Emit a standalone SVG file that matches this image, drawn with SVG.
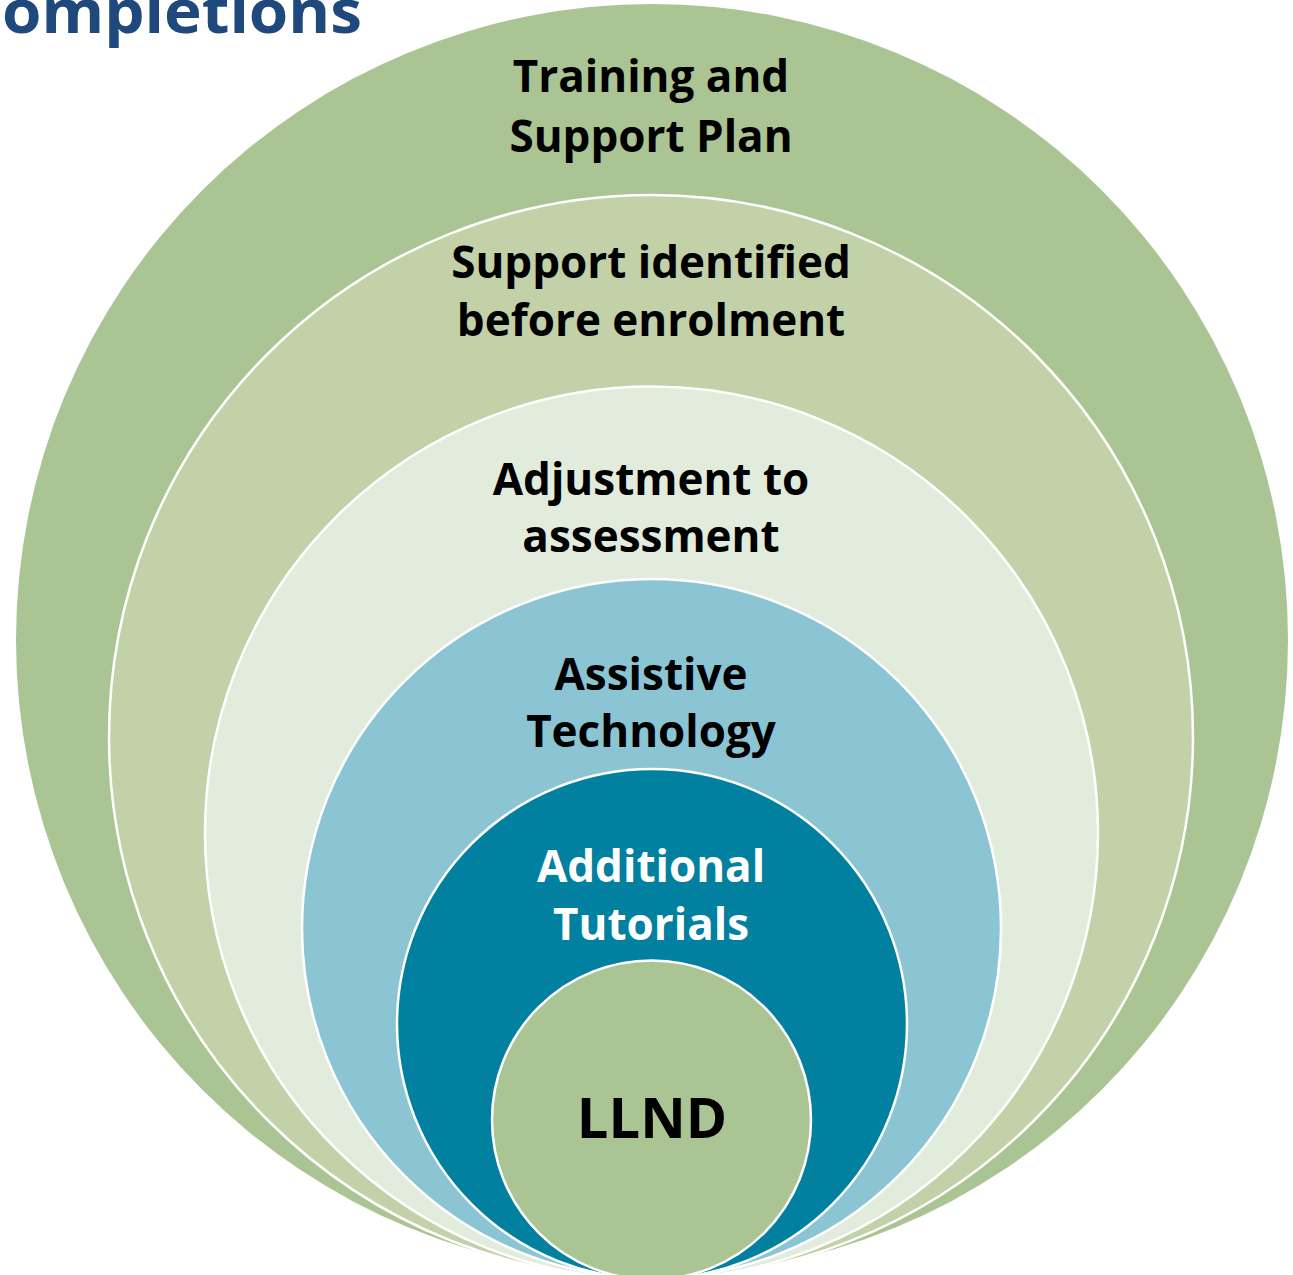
<svg xmlns="http://www.w3.org/2000/svg" width="1293" height="1275" viewBox="0 0 1293 1275">
  <style>
    .ring { stroke: #ffffff; stroke-width: 2.5; }
    .lbl { font-family: "Open Sans", "Liberation Sans", sans-serif; font-weight: 700; font-size: 44px; text-anchor: middle; fill: #000000; }
    .lbl.light { fill: #ffffff; }
    .title { font-family: "Open Sans", "Liberation Sans", sans-serif; font-weight: 700; font-size: 60px; fill: #1F497D; }
  </style>
  <rect width="1293" height="1275" fill="#ffffff"/>

  <text class="title" x="2" y="33" textLength="360" lengthAdjust="spacingAndGlyphs">ompletions</text>

  <!-- nested rings, all touching at the bottom -->
  <g id="training-support-plan">
    <circle cx="652" cy="640" r="636" fill="#AAC494"/>
    <text class="lbl" x="651" y="92">Training and</text>
    <text class="lbl" x="651" y="152">Support Plan</text>
  </g>
  <g id="support-identified">
    <circle class="ring" cx="651" cy="737" r="542" fill="#C3D1A9"/>
    <text class="lbl" x="651" y="278">Support identified</text>
    <text class="lbl" x="651" y="336">before enrolment</text>
  </g>
  <g id="adjustment-assessment">
    <circle class="ring" cx="651.5" cy="833" r="446.5" fill="#E2ECDC"/>
    <text class="lbl" x="651" y="495">Adjustment to</text>
    <text class="lbl" x="651" y="552">assessment</text>
  </g>
  <g id="assistive-technology">
    <circle class="ring" cx="651.5" cy="928.5" r="349.5" fill="#8BC5D4"/>
    <text class="lbl" x="651" y="690">Assistive</text>
    <text class="lbl" x="651" y="747">Technology</text>
  </g>
  <g id="additional-tutorials">
    <circle class="ring" cx="652" cy="1024" r="255" fill="#01809F"/>
    <text class="lbl light" x="651" y="882">Additional</text>
    <text class="lbl light" x="651" y="940">Tutorials</text>
  </g>
  <g id="llnd">
    <circle class="ring" cx="651.5" cy="1120" r="159.5" fill="#AAC494"/>
    <text class="lbl" x="652" y="1138" style="font-size:56px">LLND</text>
  </g>
  <g id="connectors"/>
</svg>
